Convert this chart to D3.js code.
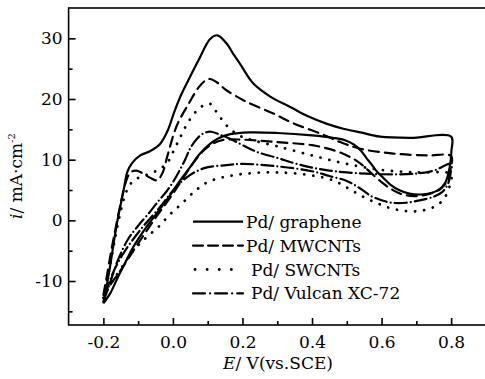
<!DOCTYPE html>
<html>
<head>
<meta charset="utf-8">
<script src="https://cdn.jsdelivr.net/npm/d3@7"></script>
<style>
  body { margin: 0; background: #fff; }
  svg { display: block; }
</style>
</head>
<body>
<div id="chart"></div>
<script>
// series names (legend order)
const seriesNames = ["Pd/ graphene", "Pd/ MWCNTs", "Pd/ SWCNTs", "Pd/ Vulcan XC-72"];

// each loop: [E (V vs SCE), i (mA/cm2)], positive scan then negative scan
const grapheneFwd = [[-0.2,-13.7],[-0.19,-10.6],[-0.181,-7.7],[-0.171,-4.0],[-0.161,-0.5],[-0.151,2.4],[-0.142,4.9],[-0.131,8.0],[-0.118,9.4],[-0.094,10.7],[-0.066,11.4],[-0.037,12.6],[-0.015,14.8],[0.001,17.4],[0.02,20.2],[0.04,22.6],[0.078,26.9],[0.107,29.9],[0.128,30.5],[0.155,29.1],[0.175,27.3],[0.193,25.8],[0.232,22.5],[0.28,20.4],[0.34,18.6],[0.39,17.1],[0.443,15.9],[0.49,15.1],[0.539,14.5],[0.596,13.8],[0.683,13.6],[0.8,13.8]];
const grapheneRev = [[0.8,13.8],[0.801,11.5],[0.796,8.8],[0.783,6.2],[0.76,4.9],[0.72,4.3],[0.68,4.4],[0.65,5.0],[0.625,5.9],[0.605,7.0],[0.587,8.0],[0.57,9.3],[0.556,10.3],[0.54,11.5],[0.52,12.5],[0.495,13.2],[0.46,13.6],[0.4,14.0],[0.3,14.4],[0.22,14.5],[0.165,14.2],[0.13,13.5],[0.1,12.3],[0.075,10.8],[0.05,8.8],[0.021,6.6],[-0.01,4.0],[-0.046,1.2],[-0.08,-1.4],[-0.114,-4.4],[-0.14,-7.3],[-0.161,-9.7],[-0.18,-12],[-0.2,-13.7]];

const mwcntFwd = [[-0.2,-12.3],[-0.19,-9.2],[-0.178,-5.2],[-0.163,-0.8],[-0.148,3.4],[-0.135,6.4],[-0.122,7.9],[-0.105,8.2],[-0.085,7.7],[-0.065,7.0],[-0.046,6.6],[-0.03,7.8],[-0.015,10.8],[0.011,15.6],[0.047,19.4],[0.075,22.0],[0.095,23.1],[0.107,23.3],[0.125,22.8],[0.155,21.4],[0.213,19.5],[0.289,17.6],[0.346,16.0],[0.424,14.3],[0.481,12.9],[0.539,11.8],[0.634,11.0],[0.731,10.7],[0.8,10.6]];
const mwcntRev = [[0.8,10.6],[0.799,8.6],[0.79,6.6],[0.77,5.2],[0.74,4.4],[0.7,4.0],[0.665,4.2],[0.635,4.9],[0.6,6.3],[0.57,7.8],[0.545,9.1],[0.52,10.1],[0.48,11.2],[0.44,11.9],[0.4,12.4],[0.3,12.9],[0.2,13.3],[0.15,13.3],[0.12,12.8],[0.09,11.6],[0.06,9.6],[0.03,7.0],[0.0,4.4],[-0.05,0.4],[-0.1,-3.8],[-0.15,-8.2],[-0.18,-10.6],[-0.2,-12.3]];

const swcntFwd = [[-0.2,-12.8],[-0.19,-10.0],[-0.18,-7.2],[-0.165,-2.6],[-0.15,1.5],[-0.135,4.6],[-0.118,6.3],[-0.1,7.0],[-0.07,7.6],[-0.04,8.4],[-0.016,9.5],[0.0,11.2],[0.021,13.7],[0.045,16.3],[0.069,18.1],[0.09,19.0],[0.107,19.2],[0.125,17.9],[0.155,15.6],[0.19,14.0],[0.23,13.2],[0.3,12.2],[0.4,10.7],[0.5,9.3],[0.6,8.3],[0.7,7.9],[0.8,7.6]];
const swcntRev = [[0.8,7.6],[0.798,6.2],[0.787,4.3],[0.767,2.8],[0.737,1.9],[0.7,1.5],[0.66,1.6],[0.62,2.1],[0.58,3.0],[0.54,4.1],[0.5,5.4],[0.46,6.6],[0.4,7.4],[0.3,7.9],[0.21,7.7],[0.145,7.1],[0.1,6.3],[0.065,4.9],[0.03,3.0],[-0.008,1.0],[-0.042,-1.1],[-0.08,-3.0],[-0.114,-5.0],[-0.15,-8.0],[-0.18,-10.6],[-0.2,-12.8]];

const vulcanFwd = [[-0.2,-13.4],[-0.18,-10.2],[-0.16,-6.8],[-0.13,-3.2],[-0.1,-0.9],[-0.066,1.4],[-0.04,3.3],[-0.018,4.8],[0.0,6.3],[0.016,7.9],[0.035,10.0],[0.05,11.9],[0.07,13.5],[0.09,14.4],[0.11,14.6],[0.14,14.0],[0.17,13.3],[0.2,12.4],[0.24,11.3],[0.3,10.3],[0.35,9.4],[0.4,8.7],[0.45,8.2],[0.5,7.9],[0.6,7.6],[0.7,7.7],[0.75,8.2],[0.8,9.3]];
const vulcanRev = [[0.8,9.3],[0.798,7.6],[0.79,5.9],[0.775,4.7],[0.75,3.9],[0.71,3.3],[0.67,2.9],[0.63,2.9],[0.6,3.3],[0.57,4.0],[0.54,5.2],[0.5,6.5],[0.45,7.3],[0.4,8.1],[0.3,8.9],[0.2,9.3],[0.155,9.1],[0.09,8.6],[0.04,7.1],[0.0,4.9],[-0.037,2.2],[-0.094,-1.6],[-0.143,-5.5],[-0.175,-9.0],[-0.2,-13.4]];

const xTicks = [-0.2, 0.0, 0.2, 0.4, 0.6, 0.8];
const xMinorTicks = [-0.1, 0.1, 0.3, 0.5, 0.7];
const yTicks = [-10, 0, 10, 20, 30];
const yMinorTicks = [-15, -5, 5, 15, 25];

const loops = [
  { name: seriesNames[0], pts: grapheneFwd.concat(grapheneRev.slice(1)), dash: null },
  { name: seriesNames[1], pts: mwcntFwd.concat(mwcntRev.slice(1)), dash: "10,6" },
  { name: seriesNames[2], pts: swcntFwd.concat(swcntRev.slice(1)), dash: "0.1,9" },
  { name: seriesNames[3], pts: vulcanFwd.concat(vulcanRev.slice(1)), dash: "12,4,0.1,4" }
];

const FONT = '"DejaVu Serif", serif';
const FS = 17;
const W = 485, H = 379;
const svg = d3.select("#chart").append("svg")
  .attr("width", W).attr("height", H)
  .attr("font-family", FONT);

const x = d3.scaleLinear().domain([-0.3, 0.9]).range([68.6, 485.9]);
const y = d3.scaleLinear().domain([-17.25, 35]).range([325, 8]);

// plain hyphen for negatives, like the original
const fmtX = d => d.toFixed(1);
const fmtY = d => String(d);

// axes, ticks point inward
svg.append("g").attr("transform", "translate(0,325)")
  .call(d3.axisBottom(x).tickValues(xTicks).tickSize(-7).tickPadding(11).tickFormat(fmtX));
svg.append("g").attr("transform", "translate(0,325)")
  .call(d3.axisBottom(x).tickValues(xMinorTicks).tickSize(-4).tickFormat(""));
svg.append("g").attr("transform", "translate(68.6,0)")
  .call(d3.axisLeft(y).tickValues(yTicks).tickSize(-7).tickPadding(6).tickFormat(fmtY));
svg.append("g").attr("transform", "translate(68.6,0)")
  .call(d3.axisLeft(y).tickValues(yMinorTicks).tickSize(-4).tickFormat(""));

svg.selectAll(".domain").remove();
svg.selectAll("g").attr("font-family", FONT);
svg.selectAll(".tick line").attr("stroke", "#000").attr("stroke-width", 1.6);
svg.selectAll(".tick text")
  .attr("font-size", FS).attr("fill", "#000");

// frame: left, bottom, top (right edge falls outside the picture)
svg.append("rect")
  .attr("x", x(-0.3)).attr("y", y(35))
  .attr("width", x(0.9) - x(-0.3)).attr("height", y(-17.25) - y(35))
  .attr("fill", "none").attr("stroke", "#000").attr("stroke-width", 1.6);

const line = d3.line()
  .x(d => x(d[0])).y(d => y(d[1]))
  .curve(d3.curveCatmullRom.alpha(0.5));

svg.append("g").selectAll("path")
  .data(loops)
  .join("path")
  .attr("d", d => line(d.pts))
  .attr("fill", "none")
  .attr("stroke", "#000")
  .attr("stroke-width", d => d.dash === "0.1,9" ? 2.8 : 2.2)
  .attr("stroke-linecap", d => d.dash === null ? "butt" : "round")
  .attr("stroke-dasharray", d => d.dash);

// legend
const legendRows = [221.7, 245.6, 269.5, 293.4];
const legendTextX = [246, 246, 251, 251];
const legendDash = [null, "10,5", "0.1,12", "12,5,0.1,5"];
const lg = svg.append("g");
loops.forEach((s, i) => {
  lg.append("line")
    .attr("x1", i === 2 ? 195 : 193).attr("x2", 243)
    .attr("y1", legendRows[i]).attr("y2", legendRows[i])
    .attr("stroke", "#000").attr("stroke-width", i === 2 ? 2.8 : 2.2)
    .attr("stroke-linecap", s.dash === null ? "butt" : "round")
    .attr("stroke-dasharray", legendDash[i]);
  lg.append("text")
    .attr("x", legendTextX[i]).attr("y", legendRows[i] + 6)
    .attr("font-size", FS)
    .text(s.name);
});

// axis titles
const xt = svg.append("text")
  .attr("x", 278).attr("y", 369)
  .attr("text-anchor", "middle")
  .attr("font-size", FS);
xt.append("tspan").attr("font-style", "italic").text("E");
xt.append("tspan").text("/ V(vs.SCE)");

const yt = svg.append("text")
  .attr("transform", "translate(22,176) rotate(-90)")
  .attr("text-anchor", "middle")
  .attr("font-size", FS);
yt.append("tspan").attr("font-style", "italic").text("i");
yt.append("tspan").text("/ mA·cm");
yt.append("tspan").attr("dy", -7).attr("font-size", 10).text("-2");
</script>
</body>
</html>
